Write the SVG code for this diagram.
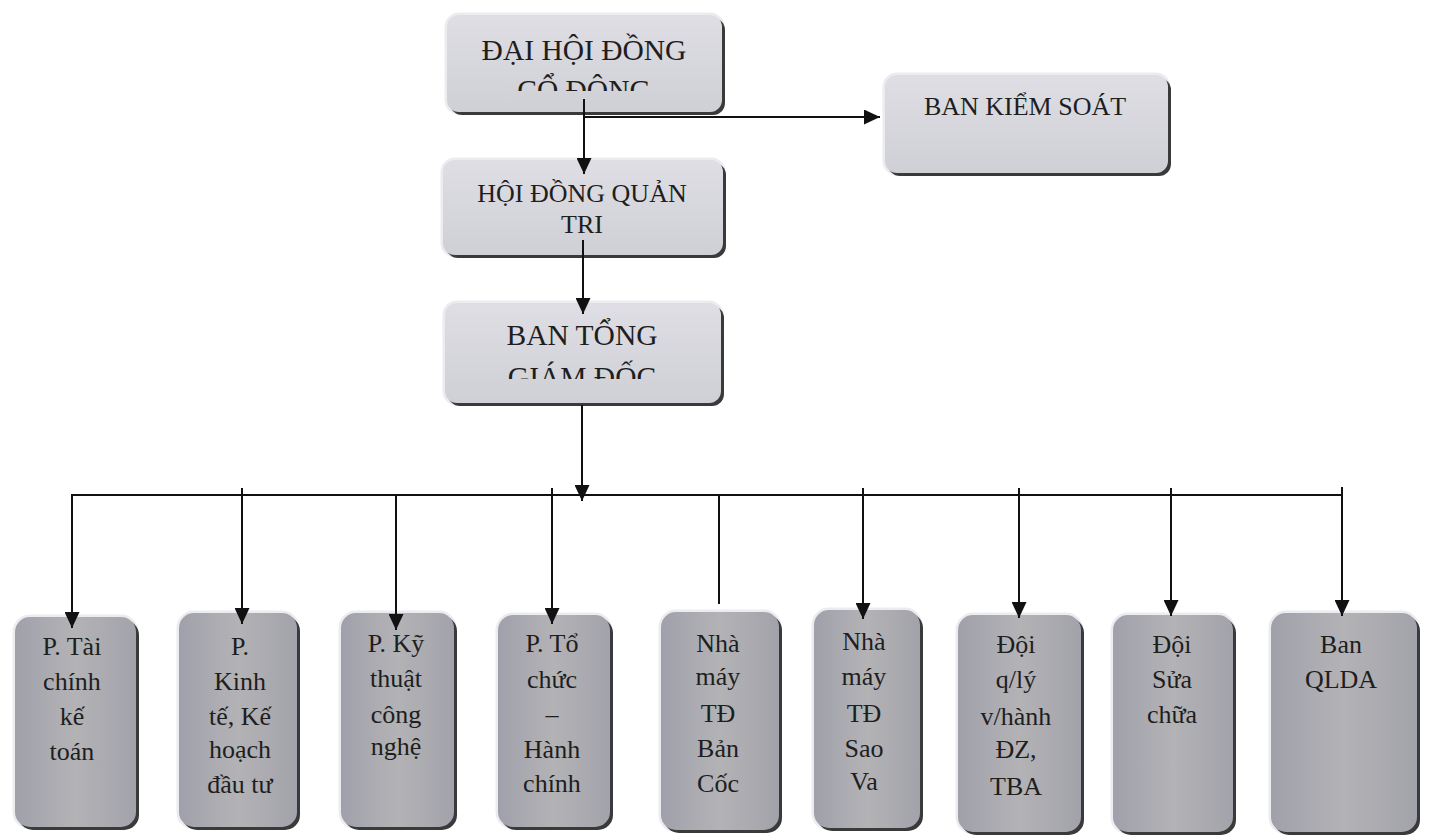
<svg xmlns="http://www.w3.org/2000/svg" width="1432" height="838" viewBox="0 0 1432 838">
<style>
  .t{font-family:"Liberation Serif","Times New Roman",serif;font-size:26px;fill:#1e1e1e;text-anchor:middle}
  .tl{font-size:29.5px}
  .shadow{fill:#3a3a3a}
  .halo{fill:none;stroke:#ececf0;stroke-width:5}
  .top{fill:url(#gTop)}
  .bot{fill:url(#gBot)}
  .ln{stroke:#111;stroke-width:2;fill:none}
  .arr{marker-end:url(#ah)}
</style>
<defs>
  <linearGradient id="gTop" x1="0" y1="0" x2="0" y2="1">
    <stop offset="0" stop-color="#dedee4"/>
    <stop offset="1" stop-color="#cfcfd6"/>
  </linearGradient>
  <linearGradient id="gBot" x1="0" y1="0" x2="1" y2="0">
    <stop offset="0" stop-color="#a0a0ab"/>
    <stop offset="0.5" stop-color="#b3b3b6"/>
    <stop offset="1" stop-color="#a2a2aa"/>
  </linearGradient>
  <marker id="ah" markerUnits="userSpaceOnUse" markerWidth="16" markerHeight="15" refX="16" refY="7.5" orient="auto" viewBox="0 0 16 15">
    <path d="M0,0 L16,7.5 L0,15 z" fill="#111"/>
  </marker>
  <clipPath id="clipA"><rect x="440" y="10" width="290" height="81"/></clipPath>
  <clipPath id="clipC"><rect x="440" y="300" width="290" height="79"/></clipPath>
</defs>
<rect width="1432" height="838" fill="#ffffff"/>

<g id="dhdcd">
  <rect class="halo" x="447" y="15" width="275" height="97" rx="12"/>
  <rect class="shadow" x="450" y="18" width="275" height="97" rx="12"/>
  <rect class="top" x="447" y="15" width="275" height="97" rx="12"/>
  <text class="t tl" x="584" y="60">ĐẠI HỘI ĐỒNG</text>
  <text class="t tl" x="584" y="100" clip-path="url(#clipA)">CỔ ĐÔNG</text>
</g>
<g id="bks">
  <rect class="halo" x="885" y="75" width="283" height="98" rx="12"/>
  <rect class="shadow" x="888" y="78" width="283" height="98" rx="12"/>
  <rect class="top" x="885" y="75" width="283" height="98" rx="12"/>
  <text class="t" x="1025" y="115">BAN KIỂM SOÁT</text>
</g>
<g id="hdqt">
  <rect class="halo" x="443" y="160" width="280" height="95" rx="12"/>
  <rect class="shadow" x="446" y="163" width="280" height="95" rx="12"/>
  <rect class="top" x="443" y="160" width="280" height="95" rx="12"/>
  <text class="t" x="582" y="202">HỘI ĐỒNG QUẢN</text>
  <text class="t" x="582" y="233">TRI</text>
</g>
<g id="btgd">
  <rect class="halo" x="445" y="303" width="276" height="100" rx="12"/>
  <rect class="shadow" x="448" y="306" width="276" height="100" rx="12"/>
  <rect class="top" x="445" y="303" width="276" height="100" rx="12"/>
  <text class="t tl" x="582" y="345">BAN TỔNG</text>
  <text class="t tl" x="582" y="387" clip-path="url(#clipC)">GIÁM ĐỐC</text>
</g>

<g id="p-tckt">
  <rect class="halo" x="15" y="617" width="121" height="210" rx="15"/>
  <rect class="shadow" x="18" y="620" width="121" height="210" rx="15"/>
  <rect class="bot" x="15" y="617" width="121" height="210" rx="15"/>
  <text class="t" x="72" y="655">P. Tài</text>
  <text class="t" x="72" y="690">chính</text>
  <text class="t" x="72" y="725">kế</text>
  <text class="t" x="72" y="760">toán</text>
</g>
<g id="p-kthdt">
  <rect class="halo" x="179" y="613" width="118" height="214" rx="15"/>
  <rect class="shadow" x="182" y="616" width="118" height="214" rx="15"/>
  <rect class="bot" x="179" y="613" width="118" height="214" rx="15"/>
  <text class="t" x="240" y="655">P.</text>
  <text class="t" x="240" y="690">Kinh</text>
  <text class="t" x="240" y="725">tế, Kế</text>
  <text class="t" x="240" y="758">hoạch</text>
  <text class="t" x="240" y="793">đầu tư</text>
</g>
<g id="p-ktcn">
  <rect class="halo" x="341" y="613" width="113" height="214" rx="15"/>
  <rect class="shadow" x="344" y="616" width="113" height="214" rx="15"/>
  <rect class="bot" x="341" y="613" width="113" height="214" rx="15"/>
  <text class="t" x="396" y="652">P. Kỹ</text>
  <text class="t" x="396" y="687">thuật</text>
  <text class="t" x="396" y="723">công</text>
  <text class="t" x="396" y="755">nghệ</text>
</g>
<g id="p-tchc">
  <rect class="halo" x="498" y="615" width="112" height="212" rx="15"/>
  <rect class="shadow" x="501" y="618" width="112" height="212" rx="15"/>
  <rect class="bot" x="498" y="615" width="112" height="212" rx="15"/>
  <text class="t" x="552" y="652">P. Tổ</text>
  <text class="t" x="552" y="688">chức</text>
  <text class="t" x="552" y="723">–</text>
  <text class="t" x="552" y="758">Hành</text>
  <text class="t" x="552" y="792">chính</text>
</g>
<g id="nm-bancoc">
  <rect class="halo" x="661" y="612" width="118" height="218" rx="15"/>
  <rect class="shadow" x="664" y="615" width="118" height="218" rx="15"/>
  <rect class="bot" x="661" y="612" width="118" height="218" rx="15"/>
  <text class="t" x="718" y="652">Nhà</text>
  <text class="t" x="718" y="685">máy</text>
  <text class="t" x="718" y="722">TĐ</text>
  <text class="t" x="718" y="757">Bản</text>
  <text class="t" x="718" y="792">Cốc</text>
</g>
<g id="nm-saova">
  <rect class="halo" x="814" y="610" width="106" height="218" rx="15"/>
  <rect class="shadow" x="817" y="613" width="106" height="218" rx="15"/>
  <rect class="bot" x="814" y="610" width="106" height="218" rx="15"/>
  <text class="t" x="864" y="650">Nhà</text>
  <text class="t" x="864" y="685">máy</text>
  <text class="t" x="864" y="722">TĐ</text>
  <text class="t" x="864" y="757">Sao</text>
  <text class="t" x="864" y="790">Va</text>
</g>
<g id="doi-qlvh">
  <rect class="halo" x="958" y="615" width="123" height="217" rx="15"/>
  <rect class="shadow" x="961" y="618" width="123" height="217" rx="15"/>
  <rect class="bot" x="958" y="615" width="123" height="217" rx="15"/>
  <text class="t" x="1016" y="653">Đội</text>
  <text class="t" x="1016" y="688">q/lý</text>
  <text class="t" x="1016" y="725">v/hành</text>
  <text class="t" x="1016" y="758">ĐZ,</text>
  <text class="t" x="1016" y="795">TBA</text>
</g>
<g id="doi-sc">
  <rect class="halo" x="1113" y="615" width="120" height="217" rx="15"/>
  <rect class="shadow" x="1116" y="618" width="120" height="217" rx="15"/>
  <rect class="bot" x="1113" y="615" width="120" height="217" rx="15"/>
  <text class="t" x="1172" y="653">Đội</text>
  <text class="t" x="1172" y="688">Sửa</text>
  <text class="t" x="1172" y="723">chữa</text>
</g>
<g id="ban-qlda">
  <rect class="halo" x="1271" y="613" width="146" height="219" rx="15"/>
  <rect class="shadow" x="1274" y="616" width="146" height="219" rx="15"/>
  <rect class="bot" x="1271" y="613" width="146" height="219" rx="15"/>
  <text class="t" x="1341" y="653">Ban</text>
  <text class="t" x="1341" y="688">QLDA</text>
</g>

<g id="connectors">
  <line class="ln arr" x1="584" y1="99" x2="584" y2="174"/>
  <line class="ln arr" x1="584" y1="117" x2="880" y2="117"/>
  <line class="ln arr" x1="583" y1="240" x2="583" y2="314"/>
  <line class="ln arr" x1="582" y1="405" x2="582" y2="501"/>
  <line class="ln" x1="71" y1="495" x2="1343" y2="495"/>
  <line class="ln arr" x1="72" y1="494" x2="72" y2="628"/>
  <line class="ln arr" x1="242" y1="488" x2="242" y2="624"/>
  <line class="ln arr" x1="396" y1="495" x2="396" y2="630"/>
  <line class="ln arr" x1="552" y1="488" x2="552" y2="624"/>
  <line class="ln" x1="719" y1="495" x2="719" y2="604"/>
  <line class="ln arr" x1="863" y1="488" x2="863" y2="619"/>
  <line class="ln arr" x1="1019" y1="488" x2="1019" y2="618"/>
  <line class="ln arr" x1="1171" y1="488" x2="1171" y2="616"/>
  <line class="ln arr" x1="1342" y1="487" x2="1342" y2="616"/>
</g>
</svg>
